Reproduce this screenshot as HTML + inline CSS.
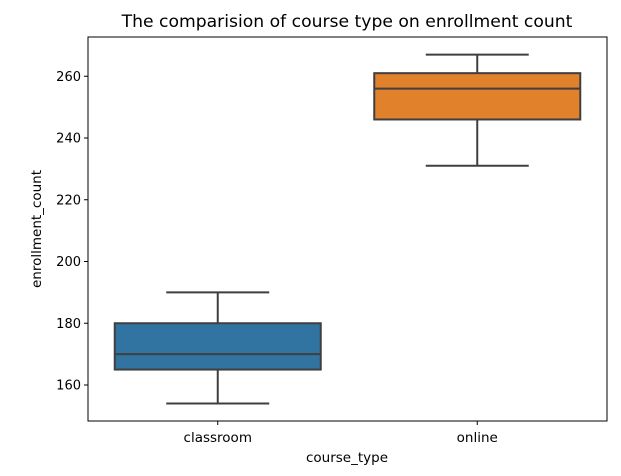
<!DOCTYPE html>
<html><head><meta charset="utf-8"><style>
body{margin:0;background:#fff;font-family:"DejaVu Sans","Liberation Sans",sans-serif;}
</style></head><body>
<svg id="chart" width="621" height="472" xmlns="http://www.w3.org/2000/svg" font-family="DejaVu Sans, Liberation Sans, sans-serif">
<text x="347" y="27" text-anchor="middle" font-size="17.2" fill="#000">The comparision of course type on enrollment count</text>
<g id="plot"></g>
<rect x="88" y="37" width="519" height="384" fill="none" stroke="#000" stroke-width="1"/>
<text x="347" y="462" text-anchor="middle" font-size="13.5">course_type</text>
<text transform="translate(41,229) rotate(-90)" text-anchor="middle" font-size="13.5">enrollment_count</text>
</svg>
<script>
const categories=["classroom","online"];
const whiskerLow=[154,231];
const q1=[165,246];
const medians=[170,256];
const q3=[180,261];
const whiskerHigh=[190,267];
const yTicks=[160,180,200,220,240,260];
const colors=["#3274a1","#e1812c"];
const ns="http://www.w3.org/2000/svg";
const L=88,R=607,T=37,B=421;
function y(v){return 385-(v-160)*3.0875;}
function xc(i){return L+(R-L)*(i+0.5)/categories.length;}
const g=document.getElementById('plot');
function mk(t,a){const e=document.createElementNS(ns,t);for(const k in a)e.setAttribute(k,a[k]);g.appendChild(e);return e;}
yTicks.forEach(v=>{
 const l=mk('line',{x1:L-4,x2:L,y1:y(v),y2:y(v),stroke:'#000'});
 
 
 const t=mk('text',{x:L-7,y:y(v)+4.5,'text-anchor':'end','font-size':'13'});
 t.textContent=v;
 
 
});
categories.forEach((c,i)=>{
 const cx=xc(i),hw=103;
 const s={stroke:'#3f3f3f','stroke-width':2};
 const w1=mk('line',Object.assign({x1:cx,x2:cx,y1:y(whiskerLow[i]),y2:y(q1[i])},s));
 
 
 const w2=mk('line',Object.assign({x1:cx,x2:cx,y1:y(q3[i]),y2:y(whiskerHigh[i])},s));
 
 
 const c1=mk('line',Object.assign({x1:cx-hw/2,x2:cx+hw/2,y1:y(whiskerLow[i]),y2:y(whiskerLow[i])},s));
 
 
 const c2=mk('line',Object.assign({x1:cx-hw/2,x2:cx+hw/2,y1:y(whiskerHigh[i]),y2:y(whiskerHigh[i])},s));
 
 
 const b=mk('rect',Object.assign({x:cx-hw,y:y(q3[i]),width:hw*2,height:y(q1[i])-y(q3[i]),fill:colors[i]},s));
 
 
 const m=mk('line',Object.assign({x1:cx-hw,x2:cx+hw,y1:y(medians[i]),y2:y(medians[i])},s));
 
 
 const tk=mk('line',{x1:cx,x2:cx,y1:B,y2:B+4,stroke:'#000'});
 
 
 const t=mk('text',{x:cx,y:B+21,'text-anchor':'middle','font-size':'13.5'});
 t.textContent=c;
 
 
});
</script>
</body></html>
